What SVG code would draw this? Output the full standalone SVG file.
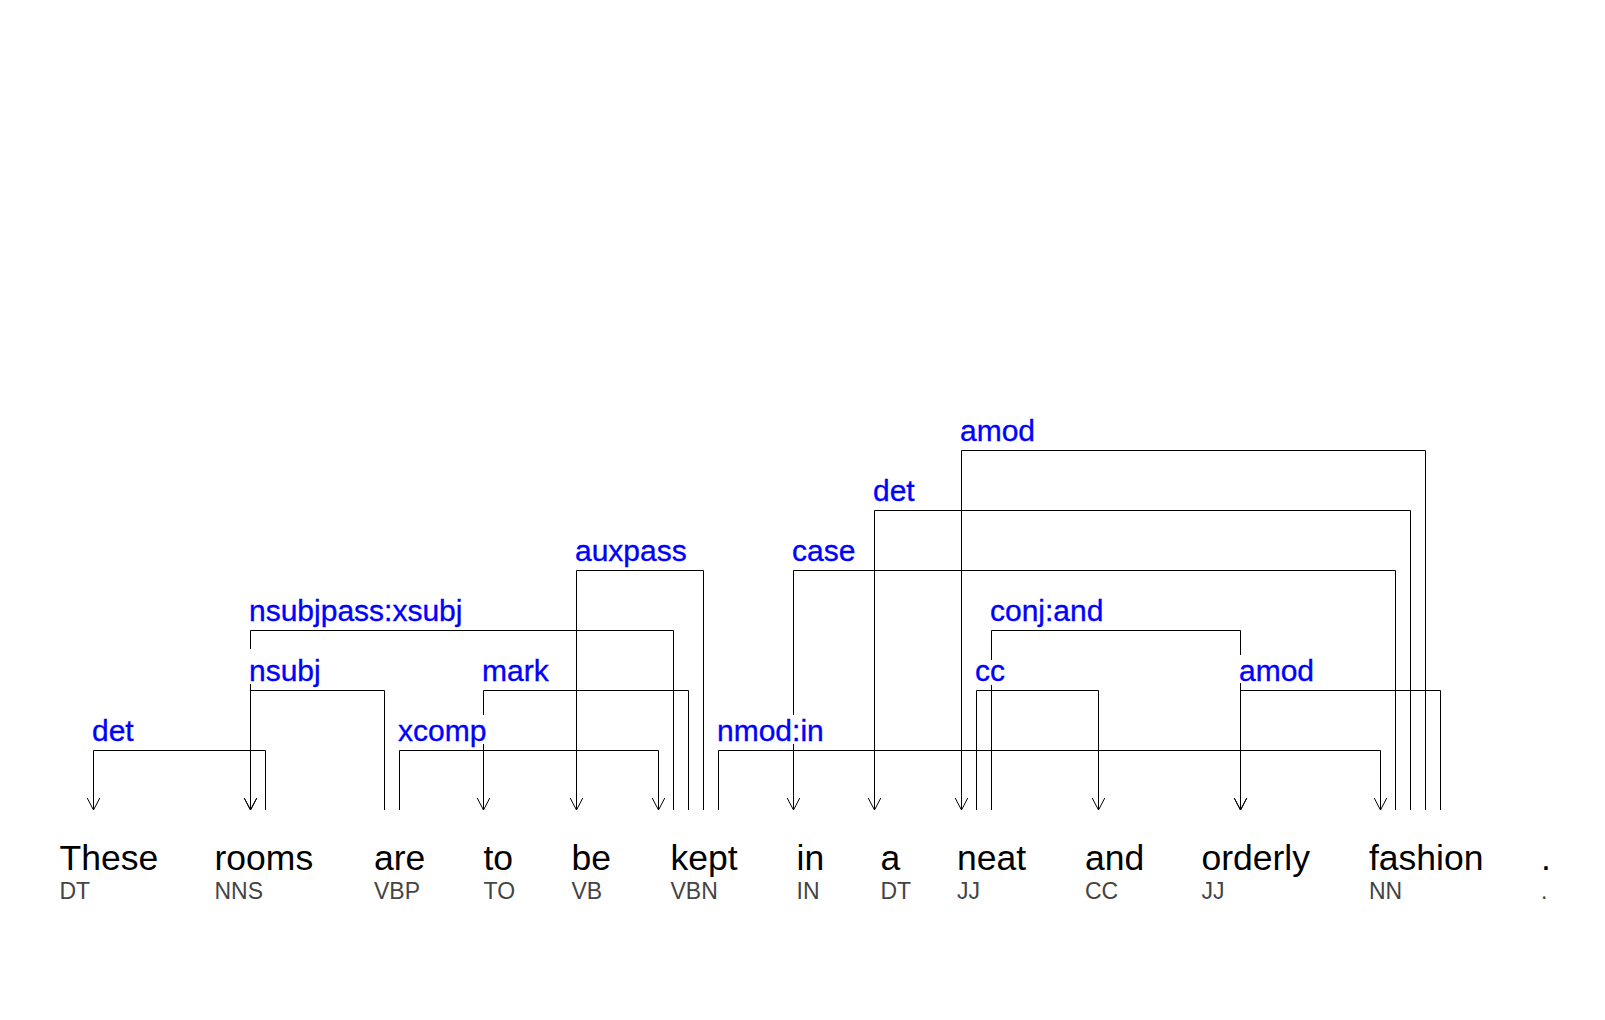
<svg xmlns="http://www.w3.org/2000/svg" width="1605" height="1020" viewBox="0 0 1605 1020">
<style>
.word{font-family:"Liberation Sans",Arial,sans-serif;font-size:35.5px;fill:#000}
.pos{font-family:"Liberation Sans",Arial,sans-serif;font-size:23px;fill:#444}
.lbl{font-family:"Liberation Sans",Arial,sans-serif;font-size:30px;fill:#0000ff;stroke:#0000ff;stroke-width:0.35px}
.arc{fill:none;stroke:#000;stroke-width:1;marker-end:url(#ah)}
</style>
<defs>
<marker id="ah" markerUnits="userSpaceOnUse" markerWidth="16" markerHeight="16" viewBox="-1 -8 16 16" refX="12" refY="0" orient="auto" overflow="visible">
<path d="M0,-6.3 L12,0 L0,6.3" fill="none" stroke="#000" stroke-width="1"/>
</marker>
</defs>
<rect width="1605" height="1020" fill="#fff"/>
<g id="connectors">
<g id="e-det1"><path class="arc" d="M265.5 810 V750.5 H93.5 V810"/><text class="lbl" x="92" y="740.5">det</text></g>
<g id="e-nsubj"><path class="arc" d="M384.5 810 V690.5 H250.5 V810"/><text class="lbl" x="249" y="680.5">nsubj</text></g>
<g id="e-nsubjpass"><path class="arc" d="M673.5 810 V630.5 H250.5 V649 M250.5 684 V810"/><text class="lbl" x="249" y="620.5">nsubjpass:xsubj</text></g>
<g id="e-xcomp"><path class="arc" d="M399.5 810 V750.5 H658.5 V810"/><text class="lbl" x="398" y="740.5">xcomp</text></g>
<g id="e-mark"><path class="arc" d="M688.5 810 V690.5 H483.5 V715 M483.5 744 V810"/><text class="lbl" x="482" y="680.5">mark</text></g>
<g id="e-auxpass"><path class="arc" d="M703.5 810 V570.5 H576.5 V810"/><text class="lbl" x="575" y="560.5">auxpass</text></g>
<g id="e-nmod"><path class="arc" d="M718.5 810 V750.5 H1380.5 V810"/><text class="lbl" x="717" y="740.5">nmod:in</text></g>
<g id="e-case"><path class="arc" d="M1395.5 810 V570.5 H793.5 V715 M793.5 744 V810"/><text class="lbl" x="792" y="560.5">case</text></g>
<g id="e-det2"><path class="arc" d="M1410.5 810 V510.5 H874.5 V810"/><text class="lbl" x="873" y="500.5">det</text></g>
<g id="e-amod1"><path class="arc" d="M1425.5 810 V450.5 H961.5 V810"/><text class="lbl" x="960" y="440.5">amod</text></g>
<g id="e-conj"><path class="arc" d="M991.5 810 V685 M991.5 660 V630.5 H1240.5 V655 M1240.5 683 V810"/><text class="lbl" x="990" y="620.5">conj:and</text></g>
<g id="e-cc"><path class="arc" d="M976.5 810 V690.5 H1098.5 V810"/><text class="lbl" x="975" y="680.5">cc</text></g>
<g id="e-amod2"><path class="arc" d="M1440.5 810 V690.5 H1240.5 V810"/><text class="lbl" x="1239" y="680.5">amod</text></g>
</g>
<g id="w-These"><text class="word" x="59.5" y="870">These</text><text class="pos" x="59.5" y="899">DT</text></g>
<g id="w-rooms"><text class="word" x="214.5" y="870">rooms</text><text class="pos" x="214.5" y="899">NNS</text></g>
<g id="w-are"><text class="word" x="374" y="870">are</text><text class="pos" x="374" y="899">VBP</text></g>
<g id="w-to"><text class="word" x="483.5" y="870">to</text><text class="pos" x="483.5" y="899">TO</text></g>
<g id="w-be"><text class="word" x="571.5" y="870">be</text><text class="pos" x="571.5" y="899">VB</text></g>
<g id="w-kept"><text class="word" x="670.5" y="870">kept</text><text class="pos" x="670.5" y="899">VBN</text></g>
<g id="w-in"><text class="word" x="796.5" y="870">in</text><text class="pos" x="796.5" y="899">IN</text></g>
<g id="w-a"><text class="word" x="880.5" y="870">a</text><text class="pos" x="880.5" y="899">DT</text></g>
<g id="w-neat"><text class="word" x="957" y="870">neat</text><text class="pos" x="957" y="899">JJ</text></g>
<g id="w-and"><text class="word" x="1085" y="870">and</text><text class="pos" x="1085" y="899">CC</text></g>
<g id="w-orderly"><text class="word" x="1201.5" y="870">orderly</text><text class="pos" x="1201.5" y="899">JJ</text></g>
<g id="w-fashion"><text class="word" x="1369" y="870">fashion</text><text class="pos" x="1369" y="899">NN</text></g>
<g id="w-period"><text class="word" x="1541" y="870">.</text><text class="pos" x="1541" y="899">.</text></g>
</svg>
